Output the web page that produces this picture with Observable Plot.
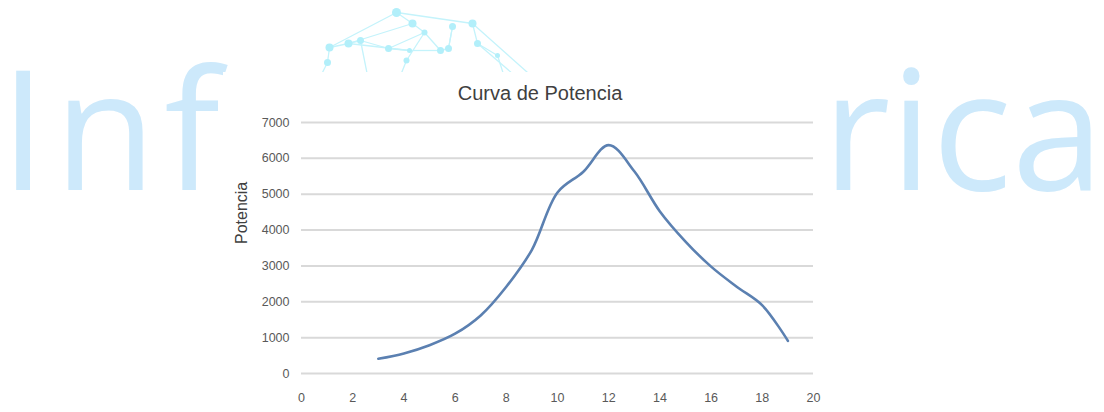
<!DOCTYPE html>
<html>
<head>
<meta charset="utf-8">
<script src="https://cdn.jsdelivr.net/npm/d3@7"></script>
<script src="https://cdn.jsdelivr.net/npm/@observablehq/plot@0.6"></script>
<style>
  html, body { margin: 0; padding: 0; background: #fff; }
  #stage { position: relative; width: 1104px; height: 412px; overflow: hidden; background: #fff; }
  #wm { position: absolute; left: 0; top: 0; }
  #net { position: absolute; left: 0; top: 0; }
  #panel { position: absolute; left: 223px; top: 72px; width: 612px; height: 340px; background: #fff; }
  #title { position: absolute; left: 0; top: 9px; width: 634px; height: 24px; line-height: 24px; text-align: center;
           font-family: "Liberation Sans", Arial, sans-serif; font-size: 20px; color: #404040; }
  #chart { position: absolute; left: 0; top: 36px; }
</style>
</head>
<body>
<div id="stage">
  <svg id="wm" width="1104" height="412">
    <text x="0" y="190" font-family="Open Sans" font-size="166" letter-spacing="8" fill="#cde9fb">Inf</text>
    <text x="1104" y="190" text-anchor="end" font-family="Open Sans" font-size="166" fill="#cde9fb">rica</text>
  </svg>
  <div id="net"></div>
  <div id="panel">
    <div id="title"></div>
    <div id="chart"></div>
  </div>
</div>
<script>
// ---- chart data ----
const windSpeed = [3, 4, 5, 6, 7, 8, 9, 10, 11, 12, 13, 14, 15, 16, 17, 18, 19];
const power     = [410, 560, 790, 1110, 1620, 2420, 3450, 5050, 5620, 6370, 5640, 4520, 3680, 2980, 2420, 1900, 910];
const xTicks = [0, 2, 4, 6, 8, 10, 12, 14, 16, 18, 20];
const yTicks = [0, 1000, 2000, 3000, 4000, 5000, 6000, 7000];
const titleText = "Curva de Potencia";
const yLabel = "Potencia";

// ---- decorative network in the watermark ----
const nodeX = [396, 412, 452, 472, 424, 329, 348, 360, 388, 409, 440, 448, 477, 327, 406, 497, 318, 368, 398, 520, 536, 505];
const nodeY = [12, 23, 26, 23, 32, 47, 43, 40, 48, 50, 50, 48, 43, 62, 60, 55, 80, 80, 80, 80, 80, 80];
const nodeR = [4.5, 4, 3.5, 4, 3, 4, 4, 3.5, 3.5, 2.5, 3.5, 3.5, 3.5, 3.5, 3, 2.5, 0, 0, 0, 0, 0, 0];
const linkFrom = [0, 0, 1, 1, 2, 3, 4, 4, 4, 5, 6, 7, 8, 9, 10, 11, 12, 5, 13, 7, 14, 12, 3, 15, 0, 6];
const linkTo   = [5, 3, 6, 4, 11, 12, 8, 14, 10, 6, 7, 8, 9, 10, 11, 2, 15, 13, 16, 17, 18, 19, 20, 21, 1, 9];

const table = windSpeed.map((v, i) => ({x: v, y: power[i]}));
const nodes = nodeX.map((v, i) => ({x: v, y: nodeY[i], r: nodeR[i]}));
const links = linkFrom.map((a, i) => ({a: nodes[a], b: nodes[linkTo[i]]}));

document.getElementById("title").textContent = titleText;

const net = Plot.plot({
  width: 1104, height: 80, margin: 0,
  x: {domain: [0, 1104], range: [0, 1104], axis: null},
  y: {domain: [0, 80], range: [0, 80], axis: null},
  r: {type: "identity"},
  marks: [
    Plot.link(links, {x1: d => d.a.x, y1: d => d.a.y, x2: d => d.b.x, y2: d => d.b.y, stroke: "#c4f3fb", strokeWidth: 1.3}),
    Plot.dot(nodes.filter(d => d.r > 0), {x: "x", y: "y", r: "r", fill: "#b2effa", stroke: "none"})
  ]
});
document.getElementById("net").append(net);

const chart = Plot.plot({
  width: 612, height: 304,
  marginLeft: 78, marginRight: 22, marginTop: 14, marginBottom: 39,
  style: {fontFamily: "Liberation Sans, Arial, sans-serif", background: "transparent"},
  x: {domain: [0, 20]},
  y: {domain: [0, 7000]},
  marks: [
    Plot.gridY(yTicks, {stroke: "#d9d9d9", strokeOpacity: 1, strokeWidth: 2}),
    Plot.axisY(yTicks, {tickSize: 0, tickPadding: 12, fontSize: 12.5, fill: "#595959", label: null, tickFormat: d => String(d)}),
    Plot.axisX(xTicks, {tickSize: 0, tickPadding: 20, fontSize: 12.5, fill: "#595959", label: null, tickFormat: d => String(d)}),
    Plot.line(table, {x: "x", y: "y", curve: "catmull-rom", stroke: "#5b80b1", strokeWidth: 2.6}),
    Plot.text([yLabel], {frameAnchor: "left", text: d => d, rotate: -90, dx: -60, dy: -4, fontSize: 16, fill: "#404040"})
  ]
});
document.getElementById("chart").append(chart);
</script>
</body>
</html>
